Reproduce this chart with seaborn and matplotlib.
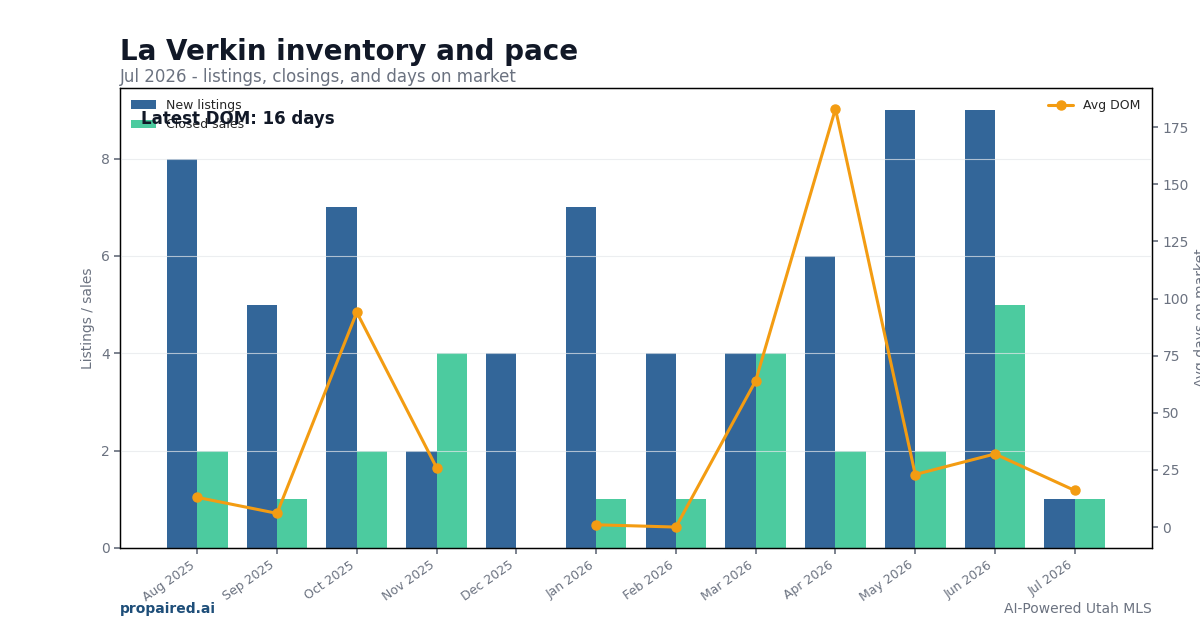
import numpy as np
import pandas as pd
import matplotlib
matplotlib.use("Agg")
import matplotlib.pyplot as plt
import seaborn as sns

months = ["Aug 2025", "Sep 2025", "Oct 2025", "Nov 2025", "Dec 2025", "Jan 2026",
          "Feb 2026", "Mar 2026", "Apr 2026", "May 2026", "Jun 2026", "Jul 2026"]
new_listings = [8, 5, 7, 2, 4, 7, 4, 4, 6, 9, 9, 1]
closed_sales = [2, 1, 2, 4, 0, 1, 1, 4, 2, 2, 5, 1]
avg_dom = [13, 6, 94, 26, np.nan, 1, 0, 64, 183, 23, 32, 16]

BLUE = "#336699"
GREEN = "#4ccb9f"
ORANGE = "#f39c12"
GREY = "#6b7280"
DARK = "#111827"

sns.set_theme(style="white")
plt.rcParams["font.family"] = ["DejaVu Sans"]

df = pd.DataFrame({
    "month": months * 2,
    "value": new_listings + closed_sales,
    "series": ["New listings"] * 12 + ["Closed sales"] * 12,
})

fig = plt.figure(figsize=(12, 6.3), dpi=100)
ax = fig.add_axes([0.1, 0.1302, 0.86, 0.7302])

sns.barplot(data=df, x="month", y="value", hue="series", order=months,
            hue_order=["New listings", "Closed sales"],
            palette=[BLUE, GREEN], width=0.76, saturation=1, ax=ax, errorbar=None,
            linewidth=0, edgecolor="none")

ax.set_ylim(0, max(new_listings) * 1.05)
ax.set_yticks([0, 2, 4, 6, 8])
ax.grid(axis="y", color="#e5e7eb", linewidth=0.8, alpha=0.7)
ax.set_axisbelow(False)
ax.set_xlabel("")
ax.set_ylabel("Listings / sales", color=GREY, fontsize=10)
ax.tick_params(axis="y", colors=GREY, labelsize=10, length=4, left=True)
ax.tick_params(axis="x", colors=GREY, labelsize=9, length=4, bottom=True)
for lbl in ax.get_xticklabels():
    lbl.set_rotation(35)
    lbl.set_ha("right")
for s in ax.spines.values():
    s.set_color("black")
    s.set_linewidth(0.9)
leg = ax.legend(loc="upper left", frameon=False, fontsize=9, handlelength=2.0)

ax2 = ax.twinx()
ax2.plot(np.arange(len(months)), avg_dom, color=ORANGE, linewidth=2.2,
         marker="o", markersize=6.5, label="Avg DOM")
dmax = np.nanmax(avg_dom)
ax2.set_ylim(-0.05 * dmax, dmax * 1.05)
ax2.set_yticks([0, 25, 50, 75, 100, 125, 150, 175])
ax2.set_ylabel("Avg days on market", color=GREY, fontsize=10)
ax2.tick_params(axis="y", colors=GREY, labelsize=10, length=4, right=True)
ax2.grid(False)
for s in ax2.spines.values():
    s.set_color("black")
    s.set_linewidth(0.9)
ax2.legend(loc="upper right", frameon=False, fontsize=9)

ax.text(0.02, 0.933, "Latest DOM: 16 days", transform=ax.transAxes,
        fontsize=12, fontweight="bold", color=DARK, va="center", ha="left", zorder=10)

fig.text(0.1, 0.918, "La Verkin inventory and pace", fontsize=20, fontweight="bold",
         color=DARK, ha="left", va="center")
fig.text(0.1, 0.877, "Jul 2026 - listings, closings, and days on market", fontsize=12,
         color=GREY, ha="left", va="center")
fig.text(0.1, 0.033, "propaired.ai", fontsize=10, fontweight="bold", color="#1e4e79",
         ha="left", va="center")
fig.text(0.96, 0.033, "AI-Powered Utah MLS", fontsize=10, color=GREY,
         ha="right", va="center")

fig.savefig("out.png", dpi=100)
